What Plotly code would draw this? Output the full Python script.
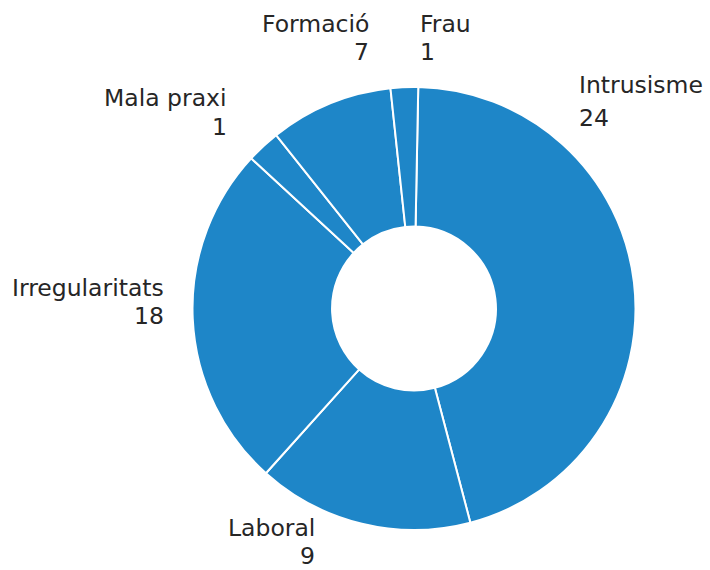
import plotly.graph_objects as go

# Categories in clockwise order starting at 12 o'clock
categories = ["Intrusisme", "Laboral", "Irregularitats", "Mala praxi", "Formació", "Frau"]
# Numbers printed in the labels
counts = [24, 9, 18, 1, 7, 1]
# Slice sizes as drawn in the picture (percent of the ring)
shares = [45.6, 15.75, 25.2, 2.45, 9.0, 2.0]

W, H = 710, 570
cx, cy, r = 414, 308.5, 221.5

fig = go.Figure(
    go.Pie(
        labels=categories,
        values=shares,
        sort=False,
        direction="clockwise",
        rotation=1.1,
        hole=0.37,
        textinfo="none",
        hoverinfo="label+value",
        marker=dict(colors=["#1e86c8"] * len(categories),
                    line=dict(color="white", width=2)),
        domain=dict(x=[(cx - r) / W, (cx + r) / W],
                    y=[1 - (cy + r) / H, 1 - (cy - r) / H]),
        showlegend=False,
    )
)

# label placement: (x pixel, name line middle y, number line middle y, side)
label_pos = {
    "Intrusisme": (578, 85, 117.7, "left"),
    "Laboral": (316, 528.3, 556.0, "right"),
    "Irregularitats": (165, 287.5, 315.5, "right"),
    "Mala praxi": (228, 98.3, 127, "right"),
    "Formació": (370, 24, 52.5, "right"),
    "Frau": (419, 24, 52.5, "left"),
}

font = dict(family="DejaVu Sans", size=23.5, color="#262626")
annotations = []
for name, cnt in zip(categories, counts):
    x, y1, y2, side = label_pos[name]
    for txt, y in ((name, y1), (str(cnt), y2)):
        annotations.append(dict(
            text=txt,
            x=x / W, y=1 - y / H, xref="paper", yref="paper",
            xanchor=side, yanchor="middle", align=side,
            showarrow=False, font=font, borderpad=0,
        ))

fig.update_layout(
    width=W, height=H,
    margin=dict(l=0, r=0, t=0, b=0),
    paper_bgcolor="white",
    plot_bgcolor="white",
    annotations=annotations,
)

fig.write_html("out.html", config={"displayModeBar": False},
               post_script="document.body.style.margin='0';")
